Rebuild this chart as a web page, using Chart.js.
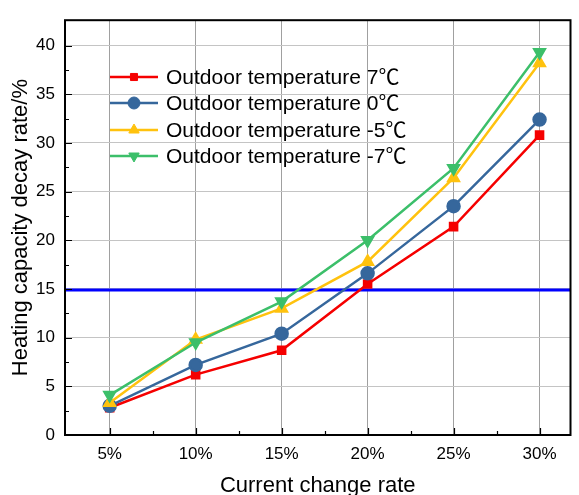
<!DOCTYPE html>
<html><head><meta charset="utf-8">
<script src="https://cdn.jsdelivr.net/npm/chart.js@4/dist/chart.umd.min.js"></script>
<style>html,body{margin:0;padding:0;background:#fff;}#wrap{width:579px;height:495px;}</style>
</head><body><div id="wrap"><canvas id="c" width="579" height="495"></canvas></div>
<script>
const categories = ['5%','10%','15%','20%','25%','30%'];
const xValues = [5,10,15,20,25,30];
const seriesNames = ['Outdoor temperature 7℃','Outdoor temperature 0℃','Outdoor temperature -5℃','Outdoor temperature -7℃'];
const temp7 = [2.8, 6.2, 8.7, 15.5, 21.4, 30.8];
const temp0 = [3.0, 7.2, 10.4, 16.6, 23.5, 32.4];
const tempM5 = [3.3, 9.8, 13.0, 17.8, 26.4, 38.2];
const tempM7 = [4.1, 9.5, 13.7, 20.0, 27.4, 39.3];
const threshold = 14.9;
const yTicks = [0,5,10,15,20,25,30,35,40];
const X_MIN = 2.4, X_MAX = 31.8, Y_MIN = 0, Y_MAX = 42.6;

const colors = ['#f50000','#36679c','#ffc20e','#3cbf6a'];
const shapes = ['rect','circle','triangle','triangle'];
const rots = [0,0,0,180];
const radii = [5,6,6,6];
const allSeries = [temp7,temp0,tempM5,tempM7];

const datasets = allSeries.map((s,i)=>({
  label: seriesNames[i],
  data: s.map((v,j)=>({x:xValues[j], y:v})),
  borderColor: colors[i], backgroundColor: colors[i],
  borderWidth: 2.5, pointStyle: shapes[i], rotation: rots[i],
  pointRadius: radii[i], pointHoverRadius: radii[i], order: 4-i
}));
datasets.unshift({
  label: 'threshold', data: [{x:X_MIN,y:threshold},{x:X_MAX,y:threshold}],
  borderColor:'#0000ff', borderWidth:3, pointRadius:0, order: 10
});

const FONT = '"Liberation Sans", Arial, "Noto Sans CJK SC", sans-serif';

const extras = {
  id:'extras',
  afterDraw(chart){
    const ctx = chart.ctx, a = chart.chartArea;
    const xs = chart.scales.x, ys = chart.scales.y;
    ctx.save();
    ctx.strokeStyle='#000'; ctx.lineWidth=1.2;
    ctx.beginPath();
    for (let v=0; v<=40; v+=2.5){
      const y = Math.round(ys.getPixelForValue(v))+0.5;
      const len = (v%5===0)?7:4;
      ctx.moveTo(a.left, y); ctx.lineTo(a.left+len, y);
    }
    for (let v=5; v<=30; v+=2.5){
      const x = Math.round(xs.getPixelForValue(v))+0.5;
      const len = (v%5===0)?7:4;
      ctx.moveTo(x, a.bottom); ctx.lineTo(x, a.bottom-len);
    }
    ctx.stroke();
    ctx.lineWidth=2; ctx.strokeStyle='#000';
    ctx.strokeRect(a.left, a.top, a.right-a.left, a.bottom-a.top);
    // legend
    const lx0 = 110, lx1 = 158, tx = 166, rows=[77,103,130,156];
    ctx.font = '21px '+FONT; ctx.textBaseline='middle'; ctx.textAlign='left';
    seriesNames.forEach((n,i)=>{
      const y = rows[i];
      ctx.strokeStyle=colors[i]; ctx.lineWidth=2.5;
      ctx.beginPath(); ctx.moveTo(lx0,y); ctx.lineTo(lx1,y); ctx.stroke();
      ctx.fillStyle=colors[i]; ctx.strokeStyle=colors[i]; ctx.lineWidth=1;
      Chart.helpers.drawPoint(ctx,{pointStyle:shapes[i], rotation:rots[i], radius: radii[i], borderWidth:1},(lx0+lx1)/2,y);
      ctx.fillStyle='#000';
      ctx.fillText(n, tx, y+1);
    });
    ctx.restore();
  }
};

new Chart(document.getElementById('c'), {
  type:'line',
  data:{datasets},
  options:{
    responsive:false, animation:false,
    layout:{padding:{top:16,right:1,left:0,bottom:0}},
    plugins:{legend:{display:false}, tooltip:{enabled:false}},
    scales:{
      x:{type:'linear', min:X_MIN, max:X_MAX,
        afterBuildTicks(s){ s.ticks = xValues.map(v=>({value:v})); },
        afterFit(s){ s.height = 60; },
        ticks:{callback:(v)=>categories[xValues.indexOf(v)], color:'#000', font:{family:FONT,size:17}, padding:9, maxRotation:0},
        grid:{color:'#a0a0a0', lineWidth:1, drawTicks:false},
        border:{display:false},
        title:{display:true, text:'Current change rate', color:'#000', font:{family:FONT,size:22}, padding:{top:0,bottom:-4}}
      },
      y:{type:'linear', min:Y_MIN, max:Y_MAX,
        afterBuildTicks(s){ s.ticks = yTicks.map(v=>({value:v})); },
        afterFit(s){ s.width = 65; },
        ticks:{color:'#000', font:{family:FONT,size:17}, padding:10},
        grid:{color:'#c4c4c4', lineWidth:1, drawTicks:false},
        border:{display:false},
        title:{display:true, text:'Heating capacity decay rate/%', color:'#000', font:{family:FONT,size:22}, padding:{top:8,bottom:4}}
      }
    }
  },
  plugins:[extras]
});
</script></body></html>
